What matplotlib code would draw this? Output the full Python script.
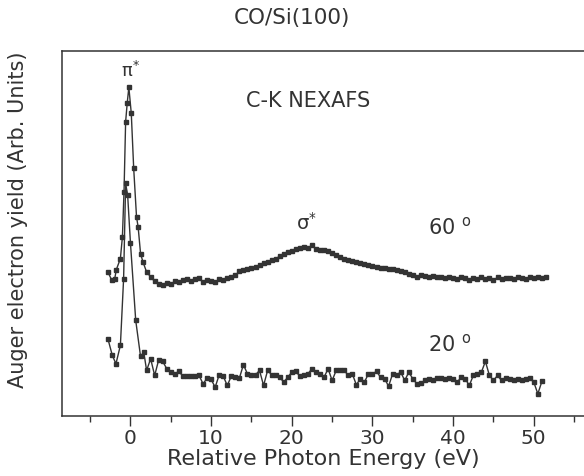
import numpy as np
import matplotlib
matplotlib.use("Agg")
import matplotlib.pyplot as plt
from matplotlib.ticker import MultipleLocator

# energies near the pi* resonance (finer steps there)
peak_x_60 = [-2.8, -2.35, -1.95, -1.75, -1.25, -1.0, -0.8, -0.6, -0.4, -0.2,
             0.1, 0.4, 0.75, 0.95, 1.25, 1.55]
peak_y_60 = [143.3, 135.7, 136.7, 145.7, 156.7, 178.3, 223.3, 293.3, 312.3, 327.7,
             301.7, 246.7, 198.3, 188.3, 161.7, 153.3]

peak_x_20 = [-2.8, -2.25, -1.8, -1.25, -0.85, -0.6, -0.35, 0.0, 0.65, 1.25, 1.65]
peak_y_20 = [76.7, 60.0, 51.7, 70.0, 136.7, 231.7, 220.0, 172.0, 95.0, 59.0, 63.3]

# rest of the scan, 0.5 eV steps starting at 2 eV
tail_start = 2.0
tail_step = 0.5
tail_y_60 = [
    143.3, 138.5, 134, 131, 130, 132, 131, 134, 133, 135,
    136, 134, 136, 137, 133, 135, 134, 133, 136, 135,
    137, 138, 140, 144, 145, 146.5, 147, 148.5, 150, 152,
    153, 155, 156.5, 159, 161, 163, 164, 166.5, 167, 168.5,
    167, 170, 166, 165.5, 165, 164, 162, 160, 158, 156.5,
    155, 154.5, 153, 152.5, 151, 150, 149.5, 148, 147, 147.5,
    146.5, 146, 145, 144, 143, 141.5, 140, 138.5, 140, 139,
    138, 139, 138, 138, 137, 138, 137, 136, 138, 137,
    135, 137, 136, 138, 136, 137, 135, 138, 136, 137,
    137, 136, 138, 137, 136, 138, 137, 138, 137, 138,
]
tail_y_20 = [
    45, 56.7, 40, 55.7, 54, 46.7, 43.3, 41.7, 44, 39.3,
    39.3, 39.3, 39.3, 40, 31.7, 37.3, 36, 28.3, 40.7, 39.3,
    30, 39.3, 38.3, 37.3, 50.7, 41.7, 40, 40.7, 45, 30,
    45, 40.7, 40, 38.3, 33.3, 38.3, 43.3, 44, 39.3, 40,
    41.7, 46.7, 43.3, 41.7, 38.3, 46.7, 35, 45, 45, 45,
    40, 41.7, 30.7, 36.7, 33.3, 41.7, 41.7, 44, 38.3, 36.7,
    29.3, 41.7, 40.7, 43.3, 35, 43.3, 36.7, 31.7, 32, 35,
    36.7, 35, 37.3, 37, 36, 37.3, 36.7, 33.3, 38.3, 36.7,
    30, 40, 41.7, 43.3, 54, 40, 35, 40, 35, 37.3,
    36.7, 35, 36.7, 35, 36.7, 37.3, 33.3, 21.7, 34,
]

INK = "#333333"


def build_series(peak_x, peak_y, tail_y):
    tail_x = tail_start + tail_step * np.arange(len(tail_y))
    x = np.concatenate([peak_x, tail_x])
    y = np.concatenate([peak_y, tail_y])
    return x, y


def main():
    plt.rcParams["font.family"] = ["DejaVu Sans"]
    plt.rcParams["mathtext.fontset"] = "dejavusans"

    fig = plt.figure(figsize=(5.84, 4.76), dpi=100)
    # right spine sits just outside the picture, like the scanned figure
    ax = fig.add_axes([0.106, 0.127, 0.9075, 0.766])

    for peak_x, peak_y, tail_y in [(peak_x_60, peak_y_60, tail_y_60),
                                   (peak_x_20, peak_y_20, tail_y_20)]:
        x, y = build_series(peak_x, peak_y, tail_y)
        ax.plot(x, y, color=INK, lw=1.0, marker="s", ms=2.2,
                mfc=INK, mec=INK)

    ax.set_xlim(-8.5, 57.2)
    ax.set_ylim(0, 364)

    ax.xaxis.set_major_locator(MultipleLocator(10))
    ax.xaxis.set_minor_locator(MultipleLocator(5))
    ax.tick_params(axis="x", which="major", direction="out", length=7,
                   width=1.0, colors=INK, labelsize=14.5, pad=3)
    ax.tick_params(axis="x", which="minor", direction="out", length=4,
                   width=1.0, colors=INK)
    ax.set_yticks([])
    for side in ax.spines.values():
        side.set_color(INK)
        side.set_linewidth(1.1)

    ax.set_xlabel("Relative Photon Energy (eV)", fontsize=16, color=INK)
    ax.xaxis.set_label_coords(0.494, -0.092)
    fig.text(0.031, 0.538, "Auger electron yield (Arb. Units)", fontsize=15,
             color=INK, rotation=90, ha="center", va="center")
    fig.text(0.5, 0.962, "CO/Si(100)", fontsize=15.5, color=INK,
             ha="center", va="center")

    # peak and angle labels
    ax.text(0.0, 344, "π$^{*}$", fontsize=13, color=INK,
            ha="center", va="center")
    ax.text(21.8, 192, "σ$^{*}$", fontsize=14, color=INK,
            ha="center", va="center")
    ax.text(22.0, 314, "C-K NEXAFS", fontsize=15, color=INK,
            ha="center", va="center")
    ax.text(39.6, 188, "60 $^{\\mathrm{o}}$", fontsize=15, color=INK,
            ha="center", va="center")
    ax.text(39.6, 71, "20 $^{\\mathrm{o}}$", fontsize=15, color=INK,
            ha="center", va="center")

    fig.savefig("out.png", dpi=100)


if __name__ == "__main__":
    main()
